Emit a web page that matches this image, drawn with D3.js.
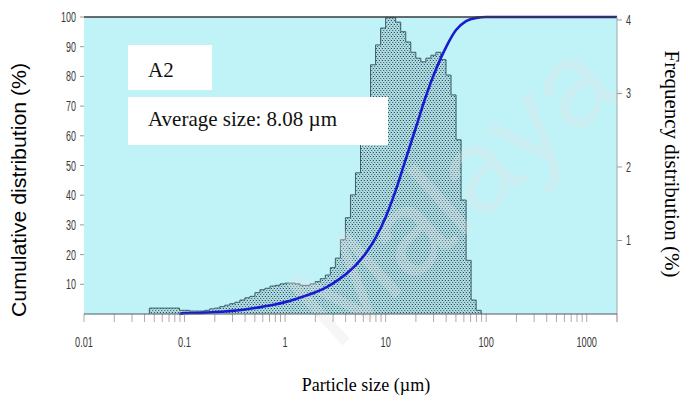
<!DOCTYPE html>
<html><head><meta charset="utf-8">
<script src="https://cdn.jsdelivr.net/npm/d3@7"></script>
<style>body{margin:0;background:#fff}svg{display:block}</style>
</head><body>
<svg id="c" width="688" height="405"></svg>
<script>
// ---- data ----
const binExponents = d3.range(-27, 40);           // bin edges at 10^(k/20) µm
const freqValues = [0.08,0.08,0.08,0.08,0.08,0.08,0.05,0.05,0.04,0.04,0.04,0.05,0.07,0.08,0.10,0.12,0.14,0.16,0.19,0.22,0.24,0.29,0.33,0.35,0.38,0.39,0.41,0.42,0.42,0.41,0.39,0.39,0.41,0.44,0.48,0.53,0.63,0.76,1.01,1.31,1.62,1.92,2.37,2.91,3.39,3.66,3.89,4.03,4.03,3.97,3.84,3.70,3.56,3.48,3.43,3.48,3.52,3.56,3.46,3.25,2.98,2.37,1.55,0.73,0.19,0.05];
const cumSizes = [0.089,0.1,0.126,0.158,0.2,0.251,0.316,0.398,0.501,0.631,0.794,1,1.26,1.58,2.0,2.51,3.16,3.98,5.01,6.31,7.94,10,12.6,15.8,20.0,25.1,31.6,39.8,50.1,63.1,79.4,100,2000];
const cumValues = [0,0.3,0.35,0.45,0.65,0.85,1.15,1.5,2.0,2.6,3.2,4.0,5.0,6.1,7.3,8.8,10.8,13.3,16.4,20.3,25.6,32.6,41.6,52.0,62.8,73.3,82.3,89.8,95.6,98.6,99.7,100,100];
const xTickValues = [0.01,0.1,1,10,100,1000];
const xTickLabels = ["0.01","0.1","1","10","100","1000"];
const leftTicks = [10,20,30,40,50,60,70,80,90,100];
const rightTicks = [1,2,3,4];
const labelA = "A2";
const labelAvg = "Average size: 8.08 µm";

// ---- layout ----
const L=84, R=617, T=17, B=314;
const svg = d3.select("#c");
const x = d3.scaleLog().domain([0.01,2000]).range([L,R]);
const yL = d3.scaleLinear().domain([0,100]).range([B,T]);
const yR = d3.scaleLinear().domain([0,4.04]).range([B,T]);
const sans = "'Liberation Sans', Arial, sans-serif";

// pattern
const defs = svg.append("defs");
const pat = defs.append("pattern").attr("id","dots").attr("patternUnits","userSpaceOnUse")
  .attr("width",3).attr("height",4);
pat.append("rect").attr("width",3).attr("height",4).attr("fill","#b0dde4");
pat.append("rect").attr("x",1).attr("y",0).attr("width",1).attr("height",1).attr("fill","#2f4f5c");
pat.append("rect").attr("x",2).attr("y",2).attr("width",1).attr("height",1).attr("fill","#4f707c");
pat.append("rect").attr("x",0).attr("y",0).attr("width",1).attr("height",4).attr("fill","#9cc8d0");

// plot background
svg.append("rect").attr("x",L).attr("y",T).attr("width",R-L).attr("height",B-T).attr("fill","#c0f3f7");

// histogram
const bins = freqValues.map((v,i)=>({x0:Math.pow(10,binExponents[i]/20), x1:Math.pow(10,binExponents[i+1]/20), v}));
svg.append("g").selectAll("rect").data(bins).join("rect")
  .attr("x",d=>x(d.x0)).attr("width",d=>x(d.x1)-x(d.x0)+0.3)
  .attr("y",d=>yR(d.v)).attr("height",d=>B-yR(d.v))
  .attr("fill","url(#dots)");
const outline = [];
outline.push([x(bins[0].x0), B]);
bins.forEach(d=>{outline.push([x(d.x0), yR(d.v)]); outline.push([x(d.x1), yR(d.v)]);});
outline.push([x(bins[bins.length-1].x1), B]);
svg.append("path").attr("d", d3.line()(outline)).attr("fill","none")
  .attr("stroke","#3d5e6a").attr("stroke-width",1);

// watermark
svg.append("text").attr("transform","translate(335,352) rotate(-42)")
  .attr("font-family",sans).attr("font-size",120)
  .attr("fill","#e4e4e4").attr("opacity",0.3).text("Malaya");

// cumulative curve
const line = d3.line().x((d,i)=>x(cumSizes[i])).y(d=>yL(d)).curve(d3.curveMonotoneX);
svg.append("path").datum(cumValues).attr("d",line).attr("fill","none")
  .attr("stroke","#1a1ad0").attr("stroke-width",2.6);

// borders
svg.append("line").attr("x1",L).attr("x2",R).attr("y1",T).attr("y2",T).attr("stroke","#3a3a3a").attr("stroke-width",1.5);
svg.append("line").attr("x1",R).attr("x2",R).attr("y1",T).attr("y2",B).attr("stroke","#9aaaaa").attr("stroke-width",1);

// bottom axis
const minor = [];
for (let e=-2;e<=3;e++) for (let m=1;m<=9;m++){const v=m*Math.pow(10,e); if(v<=2000) minor.push(v);}
minor.push(2000);
const gx = svg.append("g");
gx.selectAll("line.t").data(minor).join("line").attr("class","t")
  .attr("x1",d=>x(d)).attr("x2",d=>x(d)).attr("y1",B).attr("y2",B+8)
  .attr("stroke","#b8a6ae").attr("stroke-width",1);
gx.append("line").attr("x1",L).attr("x2",R).attr("y1",B).attr("y2",B).attr("stroke","#505a5a").attr("stroke-width",1.2);
gx.selectAll("text").data(xTickValues).join("text")
  .attr("transform",d=>`translate(${x(d)},347) scale(0.66,1)`).attr("text-anchor","middle")
  .attr("font-family",sans).attr("font-size",14).attr("fill","#3a3a3a")
  .text((d,i)=>xTickLabels[i]);

// left axis
const gl = svg.append("g");
gl.selectAll("line").data(leftTicks).join("line")
  .attr("x1",L-4).attr("x2",L).attr("y1",d=>yL(d)).attr("y2",d=>yL(d)).attr("stroke","#999");
gl.selectAll("text").data(leftTicks).join("text")
  .attr("transform",d=>`translate(${L-8},${yL(d)+5}) scale(0.64,1)`).attr("text-anchor","end")
  .attr("font-family",sans).attr("font-size",14).attr("fill","#3a3a3a").text(d=>d);

// right axis
const gr = svg.append("g");
gr.selectAll("line").data(rightTicks).join("line")
  .attr("x1",R).attr("x2",R+5).attr("y1",d=>yR(d)).attr("y2",d=>yR(d)).attr("stroke","#999");
gr.selectAll("text").data(rightTicks).join("text")
  .attr("transform",d=>`translate(${R+9},${yR(d)+5}) scale(0.64,1)`).attr("text-anchor","start")
  .attr("font-family",sans).attr("font-size",14).attr("fill","#3a3a3a").text(d=>d);

// titles
svg.append("text").attr("transform","translate(26,190) rotate(-90)").attr("text-anchor","middle")
  .attr("font-family",sans).attr("font-size",20).attr("fill","#000")
  .attr("textLength",254).attr("lengthAdjust","spacingAndGlyphs")
  .text("Cumulative distribution (%)");
svg.append("text").attr("transform","translate(665,164) rotate(90)").attr("text-anchor","middle")
  .attr("font-family","'Liberation Serif', 'Times New Roman', serif").attr("font-size",20).attr("fill","#000")
  .attr("textLength",227).attr("lengthAdjust","spacingAndGlyphs")
  .text("Frequency distribution (%)");
svg.append("text").attr("x",366).attr("y",391).attr("text-anchor","middle")
  .attr("font-family","'Liberation Serif', 'Times New Roman', serif").attr("font-size",18).attr("fill","#000")
  .text("Particle size (µm)");

// label boxes
svg.append("rect").attr("x",128).attr("y",45).attr("width",84).attr("height",45).attr("fill","#fff");
svg.append("text").attr("x",148).attr("y",77).attr("font-family","'Liberation Serif', serif").attr("font-size",21).attr("fill","#111").text(labelA);
svg.append("rect").attr("x",128).attr("y",97).attr("width",260).attr("height",48).attr("fill","#fff");
svg.append("text").attr("x",148).attr("y",126).attr("font-family","'Liberation Serif', serif").attr("font-size",21).attr("fill","#111").text(labelAvg);
</script>
</body></html>
